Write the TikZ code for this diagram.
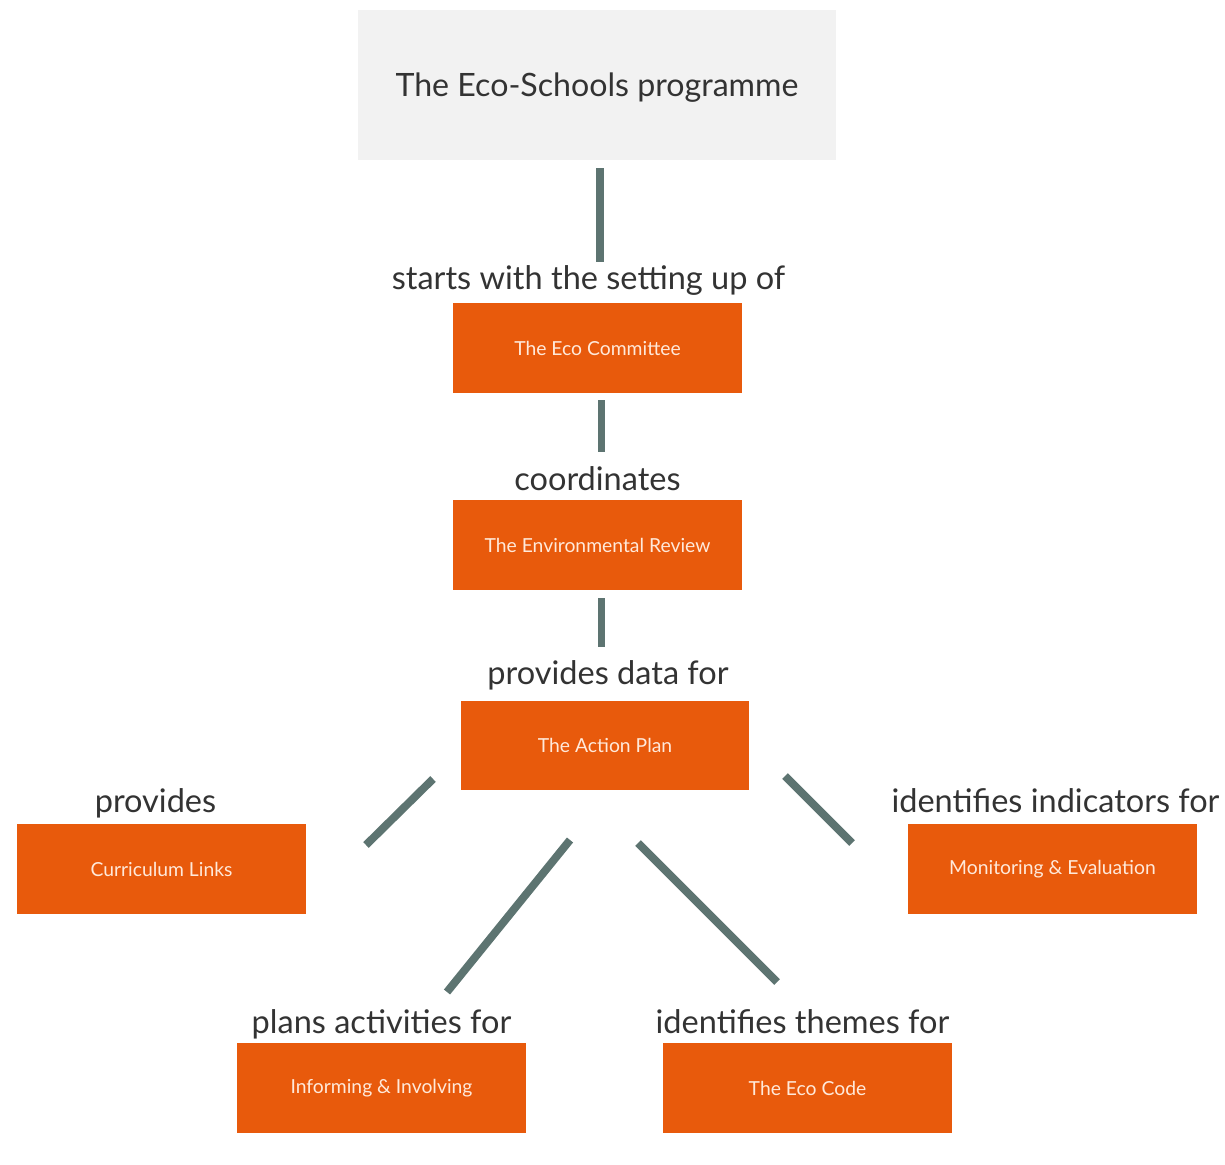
\documentclass[tikz,border=0pt]{standalone}
\usepackage{fontspec}
\setmainfont{Lato}
\usetikzlibrary{positioning, calc}
\definecolor{ecoorange}{HTML}{E85A0C}
\definecolor{ecogrey}{HTML}{F2F2F2}
\definecolor{ecoline}{HTML}{5D7471}
\definecolor{ecotext}{HTML}{333333}
\definecolor{ecocream}{HTML}{FFE9DA}
\def \boxwidth {5.78cm}
\def \boxheight {1.8cm}

\begin{document}
\begin{tikzpicture}[x = 0.02cm, y = -0.02cm,
  stagebox/.style = {fill = ecoorange, text = ecocream, minimum width = \boxwidth, minimum height = \boxheight, font = \fontsize{11}{13}\selectfont},
  linklabel/.style = {text = ecotext, inner sep = 0pt, text height = 0.75em, text depth = 0.22em, font = \fontsize{18.5}{22}\selectfont},
  link/.style = {-, line width = 4.5pt, draw = ecoline}]
\useasboundingbox [fill = white] (0, 0) rectangle (1225, 1165);

\node (programme) [fill = ecogrey, minimum width = 9.56cm, minimum height = 3cm, text = ecotext, text depth = 0pt, font = \fontsize{18.3}{22}\selectfont] at (597, 85) {The Eco-Schools programme};

\node (committee) [stagebox] at (597.5, 348) {The Eco Committee};
\node (starts) [linklabel, above = 1.8mm of committee, xshift = -0.18cm] {starts with the setting up of};
\draw[link, shorten <= 0.16cm, shorten >= 0.82cm] ([xshift = 0.06cm] programme.south) to ([xshift = 0.06cm] programme.south |- committee.north);

\node (review) [stagebox] at (597.5, 545) {The Environmental Review};
\node (coord) [linklabel, above = 1mm of review] {coordinates};
\draw[link, shorten <= 0.14cm, shorten >= 0.96cm] ([xshift = 0.08cm] committee.south) to ([xshift = 0.08cm] review.north);

\node (plan) [stagebox] at (605, 745.5) {The Action Plan};
\node (data) [linklabel, above = 2.2mm of plan, xshift = 0.06cm] {provides data for};
\draw[link, shorten <= 0.16cm, shorten >= 1.06cm] ([xshift = 0.08cm] review.south) to ([xshift = 0.08cm] review.south |- plan.north);

\node (curriculum) [stagebox] at (161.5, 869) {Curriculum Links};
\node (provides) [linklabel, above = 1.4mm of curriculum, xshift = -0.12cm] {provides};

\node (monitoring) [stagebox] at (1052.5, 869) {Monitoring \& Evaluation};
\node (indicators) [linklabel, above = 1.4mm of monitoring, xshift = 0.06cm] {identifies indicators for};

\node (informing) [stagebox] at (381.5, 1088) {Informing \& Involving};
\node (activities) [linklabel, above = 1mm of informing] {plans activities for};

\node (ecocode) [stagebox] at (807.5, 1088) {The Eco Code};
\node (themes) [linklabel, above = 1mm of ecocode, xshift = -0.1cm] {identifies themes for};

% loose ends round the action plan
\coordinate (curr-a) at (433, 779);
\coordinate (curr-b) at (366, 845);
\coordinate (moni-a) at (785, 776);
\coordinate (moni-b) at (852, 843);
\coordinate (info-a) at (570, 840);
\coordinate (info-b) at (447, 992);
\coordinate (code-a) at (638, 843);
\coordinate (code-b) at (777, 982);
\draw[link] (curr-a) to (curr-b);
\draw[link] (moni-a) to (moni-b);
\draw[link] (info-a) to (info-b);
\draw[link] (code-a) to (code-b);

\end{tikzpicture}
\end{document}
